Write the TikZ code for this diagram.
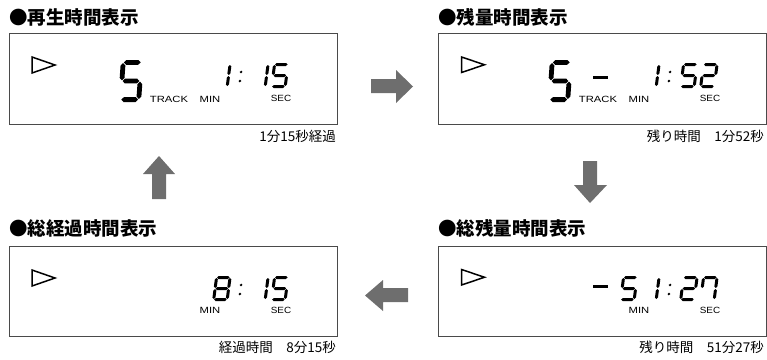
\documentclass[tikz,border=0pt]{standalone}
\usepackage{fontspec}
\newfontfamily\cjk{Noto Sans CJK JP}
\newfontfamily\lab{Liberation Sans}
\definecolor{arrowgray}{HTML}{6E6E6E}
\definecolor{boxgray}{HTML}{4A4A4A}
% seven-segment helpers (local coords: origin bottom-left, y up)
\newcommand{\lcdh}[1]{\fill ({\dt/2+\dg},{#1}) -- ({\dt+\dg},{#1+\dt/2}) -- ({\dw-\dt-\dg},{#1+\dt/2}) -- ({\dw-\dt/2-\dg},{#1}) -- ({\dw-\dt-\dg},{#1-\dt/2}) -- ({\dt+\dg},{#1-\dt/2}) -- cycle;}
\newcommand{\lcdv}[3]{\fill ({#1},{#2+\dg}) -- ({#1+\dt/2},{#2+\dg+\dt/2}) -- ({#1+\dt/2},{#3-\dg-\dt/2}) -- ({#1},{#3-\dg}) -- ({#1-\dt/2},{#3-\dg-\dt/2}) -- ({#1-\dt/2},{#2+\dg+\dt/2}) -- cycle;}
\newcommand{\lcdsega}{\lcdh{\dh-\dt/2}}
\newcommand{\lcdsegd}{\lcdh{\dt/2}}
\newcommand{\lcdsegg}{\lcdh{\dh/2}}
\newcommand{\lcdsegb}{\lcdv{\dw-\dt/2}{\dh/2}{\dh-\dt/2}}
\newcommand{\lcdsegc}{\lcdv{\dw-\dt/2}{\dt/2}{\dh/2}}
\newcommand{\lcdsege}{\lcdv{\dt/2}{\dt/2}{\dh/2}}
\newcommand{\lcdsegf}{\lcdv{\dt/2}{\dh/2}{\dh-\dt/2}}
\newcommand{\smalldig}{\def\dw{16.5}\def\dh{25}\def\dt{3.0}\def\dg{0.5}\def\ds{0.13}}
\newcommand{\bigdig}{\def\dw{23}\def\dh{42}\def\dt{4.8}\def\dg{0.7}\def\ds{0.07}}
\newcommand{\lcddigit}[4]{#3\begin{scope}[shift={(#1,#2)},xslant=\ds,yscale=-1]\foreach \sg in {#4}{\csname lcdseg\sg\endcsname}\end{scope}}
\newcommand{\lcdcolon}[2]{\begin{scope}[shift={(#1,#2)},xslant=0.13,yscale=-1]\fill (0,7) circle (1.4); \fill (0,16) circle (1.4);\end{scope}}
\begin{document}
\begin{tikzpicture}[x=1pt,y=-1pt,
  panel/.style={draw=boxgray, line width=1.1pt, minimum width=328pt, minimum height=91pt, inner sep=0pt, anchor=north west},
  titletext/.style={font=\cjk\bfseries\fontsize{18.5}{20}\selectfont, inner sep=0pt, anchor=west},
  captext/.style={font=\cjk\fontsize{13.5}{15}\selectfont, inner sep=0pt, anchor=east},
  lbl/.style={font=\lab\fontsize{9}{10}\selectfont, inner sep=0pt},
  play/.style={draw=black, line width=1.5pt, line join=miter},
  blockarrow/.style={fill=arrowgray}]
\useasboundingbox (0,0) rectangle (767,359);

% titles
\node[titletext] (t1) at (9,17) {●再生時間表示};
\node[titletext] (t2) at (438,17) {●残量時間表示};
\node[titletext] (t3) at (9,228.5) {●総経過時間表示};
\node[titletext] (t4) at (438,228.5) {●総残量時間表示};

% panels
\node[panel] (p1) at (9,33) {};
\node[panel] (p2) at (438,33) {};
\node[panel, minimum height=90pt] (p3) at (9,246) {};
\node[panel, minimum height=90pt] (p4) at (438,246) {};

% captions
\node[captext] (c1) at (336,136.5) {1分15秒経過};
\node[captext] (c2) at (764,136.5) {残り時間　1分52秒};
\node[captext] (c3) at (336,347.5) {経過時間　8分15秒};
\node[captext] (c4) at (764,347.5) {残り時間　51分27秒};

% panel 1: play 5 1:15
\begin{scope}[shift={(9,33)}]
  \draw[play] (23,24) -- (23,40) -- (46,32) -- cycle;
  \lcddigit{109}{69}{\bigdig}{a,f,g,c,d}
  \lcddigit{203}{55}{\smalldig}{b,c}
  \lcdcolon{230}{55}
  \lcddigit{241}{55}{\smalldig}{b,c}
  \lcddigit{261}{55}{\smalldig}{a,f,g,c,d}
  \node[lbl] (tr1) at (160,66) {\scalebox{1.25}[1]{TRACK}};
  \node[lbl] (mn1) at (201,66) {\scalebox{1.25}[1]{MIN}};
  \node[lbl] (sc1) at (272,65) {\scalebox{1.1}[1]{SEC}};
\end{scope}

% panel 2: remaining 5 - 1:52
\begin{scope}[shift={(438,33)}]
  \draw[play] (23.5,24) -- (23.5,39.5) -- (46.5,31.75) -- cycle;
  \lcddigit{109}{69}{\bigdig}{a,f,g,c,d}
  \fill (155,42.5) rectangle (170,45.5);
  \lcddigit{203}{55}{\smalldig}{b,c}
  \lcdcolon{230}{55}
  \lcddigit{241}{55}{\smalldig}{a,f,g,c,d}
  \lcddigit{261}{55}{\smalldig}{a,b,g,e,d}
  \node[lbl] (tr2) at (160,66) {\scalebox{1.25}[1]{TRACK}};
  \node[lbl] (mn2) at (201,66) {\scalebox{1.25}[1]{MIN}};
  \node[lbl] (sc2) at (272,65) {\scalebox{1.1}[1]{SEC}};
\end{scope}

% panel 3: total elapsed 8:15
\begin{scope}[shift={(9,246)}]
  \draw[play] (23,24) -- (23,40) -- (46,32) -- cycle;
  \lcddigit{203}{55}{\smalldig}{a,b,c,d,e,f,g}
  \lcdcolon{230}{55}
  \lcddigit{241}{55}{\smalldig}{b,c}
  \lcddigit{261}{55}{\smalldig}{a,f,g,c,d}
  \node[lbl] (mn3) at (201,64) {\scalebox{1.25}[1]{MIN}};
  \node[lbl] (sc3) at (272,64) {\scalebox{1.1}[1]{SEC}};
\end{scope}

% panel 4: total remaining -51:27
\begin{scope}[shift={(438,246)}]
  \draw[play] (23.5,23.5) -- (23.5,39) -- (46.5,31.25) -- cycle;
  \fill (155,39) rectangle (170,42);
  \lcddigit{181}{55}{\smalldig}{a,f,g,c,d}
  \lcddigit{203}{55}{\smalldig}{b,c}
  \lcdcolon{230}{55}
  \lcddigit{241}{55}{\smalldig}{a,b,g,e,d}
  \lcddigit{261}{55}{\smalldig}{a,f,b,c}
  \node[lbl] (mn4) at (201,64) {\scalebox{1.25}[1]{MIN}};
  \node[lbl] (sc4) at (272,64) {\scalebox{1.1}[1]{SEC}};
\end{scope}

% block arrows between panels
\fill[blockarrow] (371,79) -- (396,79) -- (396,70) -- (413,86.5) -- (396,103) -- (396,93) -- (371,93) -- cycle;
\fill[blockarrow] (583,161) -- (597,161) -- (597,185) -- (607,185) -- (590,203) -- (574,185) -- (583,185) -- cycle;
\fill[blockarrow] (408,288) -- (383,288) -- (383,280) -- (365,295.5) -- (383,311) -- (383,302) -- (408,302) -- cycle;
\fill[blockarrow] (152,199) -- (152,174) -- (143,174) -- (159,156) -- (175,174) -- (166,174) -- (166,199) -- cycle;
\end{tikzpicture}
\end{document}
